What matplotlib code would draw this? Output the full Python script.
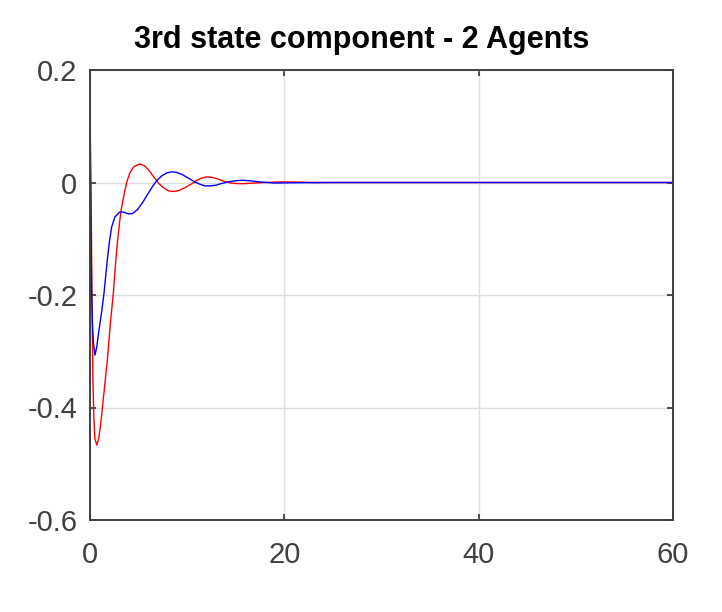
import matplotlib
matplotlib.use("Agg")
import matplotlib.pyplot as plt

plt.rcParams['font.family'] = ['Liberation Sans', 'DejaVu Sans']

# time / value pairs
t_red = [0, 0.05, 0.1, 0.2, 0.3, 0.4, 0.5, 0.7, 0.9, 1.1, 1.4, 1.78, 2.1, 2.4,
         2.6, 2.81, 3.05, 3.26, 3.5, 3.77, 4.1, 4.5, 5.1, 5.6, 6.1, 6.6, 7.1,
         7.6, 8.1, 8.6, 9.2, 9.8, 10.4, 11.0, 11.5, 12.0, 12.6, 13.2, 13.8,
         14.5, 15.2, 15.9, 16.8, 18, 19.5, 21, 23, 60]
v_red = [0.125, 0.06, 0.0, -0.2, -0.35, -0.42, -0.455, -0.467, -0.455, -0.43,
         -0.38, -0.316, -0.25, -0.197, -0.15, -0.108, -0.07, -0.043, -0.022,
         0.0, 0.017, 0.028, 0.033, 0.030, 0.021, 0.009, -0.002, -0.010, -0.015,
         -0.016, -0.014, -0.009, -0.003, 0.004, 0.008, 0.010, 0.009, 0.006,
         0.002, -0.001, -0.002, -0.002, -0.001, 0.0, 0.001, 0.001, 0.0, 0.0]

t_blue = [0, 0.05, 0.1, 0.17, 0.25, 0.35, 0.51, 0.7, 0.9, 1.2, 1.44, 1.78, 2.0,
          2.23, 2.57, 3.1, 3.5, 4.0, 4.4, 4.9, 5.4, 5.9, 6.4, 6.9, 7.4, 7.9,
          8.4, 8.9, 9.5, 10.1, 10.7, 11.3, 11.8, 12.3, 12.9, 13.5, 14.2, 14.9,
          15.7, 16.5, 17.5, 19, 21, 25, 60]
v_blue = [0.10, 0.0, -0.1, -0.197, -0.25, -0.285, -0.307, -0.292, -0.265,
          -0.23, -0.197, -0.138, -0.105, -0.079, -0.061, -0.052, -0.053, -0.056,
          -0.055, -0.048, -0.036, -0.022, -0.008, 0.004, 0.012, 0.017, 0.019,
          0.018, 0.014, 0.008, 0.002, -0.003, -0.006, -0.006, -0.005, -0.002,
          0.001, 0.003, 0.004, 0.003, 0.001, -0.001, -0.0005, 0.0, 0.0]

xticks = [0, 20, 40, 60]
yticks = [-0.6, -0.4, -0.2, 0, 0.2]
ytick_labels = ['-0.6', '-0.4', '-0.2', '0', '0.2']

fig = plt.figure(figsize=(7.22, 6.12), dpi=100)
ax = fig.add_axes([90 / 722, 92 / 612, 583 / 722, 450 / 612])

ax.plot(t_red, v_red, color='#ff0000', linewidth=1.0)
ax.plot(t_blue, v_blue, color='#0000ff', linewidth=1.0)

ax.set_xlim(0, 60)
ax.set_ylim(-0.6, 0.2)
ax.set_xticks(xticks)
ax.set_yticks(yticks)
ax.set_yticklabels(ytick_labels)
ax.grid(True, color='#dedede', linewidth=1.0)
ax.set_axisbelow(True)

ax.tick_params(direction='in', length=4, width=1.2, colors='#333333',
               labelsize=21, labelcolor='#404040', top=True, right=True)
ax.tick_params(axis='x', pad=15)
ax.tick_params(axis='y', pad=9)
for s in ax.spines.values():
    s.set_color('#404040')
    s.set_linewidth(1.4)

ax.set_title("3rd state component - 2 Agents", fontsize=22, fontweight='bold',
             x=(362 - 90) / 583, pad=16)

fig.savefig("out.png", dpi=100)
